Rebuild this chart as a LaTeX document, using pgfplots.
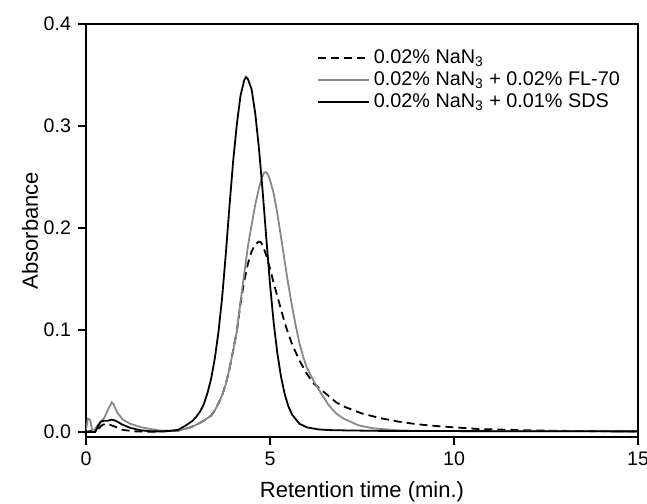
\documentclass[border=0pt]{standalone}
\usepackage{fontspec}
\setmainfont{Liberation Sans}
\usepackage{pgfplots}
\pgfplotsset{compat=1.18}
\usepackage{pgfplotstable}

\definecolor{curvegray}{RGB}{135,135,135}

% retention time (min.) vs absorbance
\pgfplotstableread{
t a
0 0
0.3 0.002
0.45 0.007
0.55 0.008
0.65 0.007
0.8 0.005
1.0 0.002
1.3 0.0006
1.6 0.0002
2.0 0.0003
2.5 0.0012
2.8 0.004
3.0 0.007
3.2 0.011
3.4 0.016
3.5 0.021
3.6 0.028
3.7 0.036
3.8 0.047
3.9 0.062
4.0 0.080
4.1 0.099
4.2 0.126
4.3 0.148
4.4 0.165
4.5 0.177
4.6 0.184
4.7 0.1866
4.75 0.186
4.8 0.183
4.9 0.173
5.0 0.160
5.1 0.146
5.2 0.133
5.3 0.120
5.4 0.107
5.5 0.096
5.6 0.086
5.8 0.070
6.0 0.057
6.2 0.047
6.5 0.038
6.8 0.029
7.0 0.025
7.5 0.018
8.0 0.0135
8.5 0.010
9.0 0.0075
9.5 0.0058
10 0.0045
10.6 0.003
11 0.0025
12 0.0016
13 0.001
14 0.0007
15 0.0005
}\nanthree

\pgfplotstableread{
t a
0 0.002
0.05 0.013
0.11 0.012
0.17 0.001
0.22 0.001
0.3 0.006
0.4 0.010
0.5 0.014
0.6 0.022
0.7 0.029
0.75 0.027
0.85 0.019
1.0 0.012
1.2 0.008
1.5 0.0045
2.0 0.0013
2.5 0.0012
2.8 0.004
3.0 0.007
3.2 0.011
3.4 0.016
3.5 0.021
3.6 0.028
3.7 0.036
3.8 0.047
3.9 0.062
4.0 0.080
4.1 0.099
4.2 0.128
4.3 0.155
4.4 0.182
4.5 0.203
4.6 0.223
4.7 0.239
4.75 0.246
4.8 0.251
4.85 0.2546
4.9 0.2545
4.95 0.252
5.0 0.247
5.1 0.234
5.2 0.214
5.3 0.191
5.4 0.167
5.5 0.144
5.6 0.123
5.7 0.104
5.8 0.087
5.9 0.074
6.0 0.063
6.2 0.049
6.3 0.043
6.4 0.037
6.6 0.026
6.8 0.018
7.0 0.013
7.4 0.0065
7.8 0.0035
8.5 0.0015
9.0 0.001
10 0.0008
15 0.0005
}\flseventy

\pgfplotstableread{
t a
0 0
0.25 0
0.32 0.005
0.4 0.010
0.5 0.011
0.6 0.011
0.7 0.012
0.8 0.011
0.9 0.009
1.0 0.007
1.2 0.004
1.5 0.0015
1.8 0.0005
2.0 0.0005
2.3 0.001
2.5 0.002
2.7 0.006
2.9 0.011
3.0 0.015
3.1 0.020
3.2 0.027
3.3 0.038
3.4 0.052
3.5 0.072
3.6 0.098
3.7 0.132
3.8 0.175
3.9 0.222
4.0 0.266
4.1 0.302
4.2 0.330
4.3 0.345
4.35 0.348
4.4 0.346
4.5 0.336
4.6 0.312
4.7 0.278
4.8 0.236
4.9 0.190
5.0 0.145
5.1 0.107
5.2 0.077
5.3 0.054
5.4 0.037
5.5 0.025
5.6 0.017
5.8 0.008
6.0 0.0045
6.3 0.0025
6.6 0.0018
7.0 0.0015
8.0 0.001
10 0.0008
15 0.0005
}\sds

\begin{document}
\begin{tikzpicture}
\path[use as bounding box] (-43pt,-33pt) rectangle (280.5pt,218.5pt);
\begin{axis}[
    scale only axis,
    width=276pt, height=206.5pt,
    xmin=0, xmax=15,
    ymin=-0.005, ymax=0.4,
    xtick={0,5,10,15},
    ytick={0,0.1,0.2,0.3,0.4},
    /pgf/number format/assume math mode=true,
    yticklabel style={/pgf/number format/.cd, fixed, fixed zerofill, precision=1},
    tick align=outside,
    xtick pos=lower, ytick pos=left,
    major tick length=4pt,
    tick style={black, line width=0.9pt},
    axis line style={line width=0.9pt},
    tick label style={font=\fontsize{9.8}{11}\selectfont},
    label style={font=\fontsize{11}{13}\selectfont},
    xlabel={Retention time (min.)},
    ylabel={Absorbance},
    xlabel style={at={(axis description cs:0.5,-0.133)}, anchor=center},
    ylabel style={at={(axis description cs:-0.1014,0.5)}, anchor=center},
    legend style={at={(axis description cs:0.418,0.948)}, anchor=north west,
      draw=none, fill=none, inner sep=0pt,
      font=\fontsize{9.9}{11}\selectfont, row sep=-1.5pt},
    legend cell align=left,
    legend image code/.code={\draw[#1] (0pt,0pt) -- (25.5pt,0pt);},
]
\addplot[black, line width=0.9pt, dash pattern=on 4pt off 2.5pt] table[x=t, y=a] {\nanthree};
\addlegendentry{0.02\% NaN\textsubscript{3}}
\addplot[curvegray, line width=0.9pt] table[x=t, y=a] {\flseventy};
\addlegendentry{0.02\% NaN\textsubscript{3} + 0.02\% FL-70}
\addplot[black, line width=0.9pt] table[x=t, y=a] {\sds};
\addlegendentry{0.02\% NaN\textsubscript{3} + 0.01\% SDS}
\end{axis}
\end{tikzpicture}
\end{document}
